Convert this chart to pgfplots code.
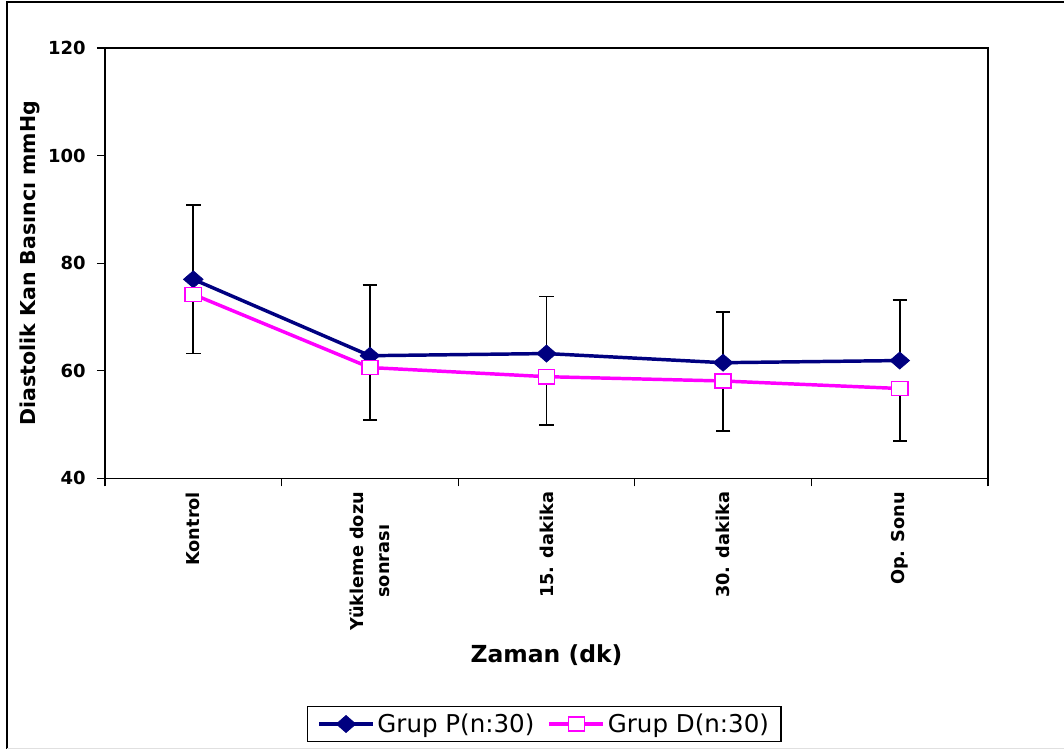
\documentclass[border=0pt]{standalone}
\usepackage{pgfplots}
\pgfplotsset{compat=1.18}
\usepackage{fontspec}
\setmainfont{DejaVu Sans}
\definecolor{navyP}{RGB}{0,0,128}
\definecolor{magD}{RGB}{255,0,255}

\begin{document}
\begin{tikzpicture}[x=0.75pt,y=0.75pt]
% page frame
\path[use as bounding box] (0,0) rectangle (1064,749);
\draw[line width=1.1pt] (7,0) -- (7,747) -- (1064,747);
\draw[black!12, line width=1pt] (7,0.7) -- (1064,0.7);
\begin{axis}[
  at={(78.75pt,203pt)}, anchor=south west,
  scale only axis, width=662.25pt, height=322.7pt,
  xmin=-0.5, xmax=4.5, ymin=40, ymax=120,
  xtick={-0.5,0.5,...,4.5},
  x tick label as interval,
  xticklabels={Kontrol,{Yükleme dozu\\sonrası},15. dakika,30. dakika,Op. Sonu},
  ytick={40,60,...,120},
  tick pos=left, tick align=outside, major tick length=6pt,
  tick style={black, line width=0.9pt},
  axis line style={line width=1.2pt},
  /pgf/number format/assume math mode=true,
  yticklabel style={font=\fontsize{13.5}{15}\selectfont\bfseries, inner sep=0pt, anchor=east, xshift=-8.25pt},
  xticklabel style={font=\fontsize{13.3}{20}\selectfont\bfseries, inner sep=0pt, yshift=-4pt, rotate=90, anchor=east, align=center},
  ylabel={Diastolik Kan Basıncı mmHg},
  ylabel style={font=\fontsize{15.4}{17}\selectfont\bfseries, at={(axis description cs:-0.0849,0.5)}, anchor=center},
  xlabel={Zaman (dk)},
  xlabel style={font=\fontsize{17.6}{19}\selectfont\bfseries, at={(axis description cs:0.5,-0.4107)}, anchor=center},
  legend columns=2,
  legend style={at={(0.4977,-0.571)}, anchor=center, draw=black, line width=0.8pt,
    font=\fontsize{18.4}{21}\selectfont, inner xsep=7pt, inner ysep=3.5pt,
    /tikz/every even column/.append style={column sep=8pt}},
  legend image code/.code={\draw[mark repeat=2,mark phase=2] plot coordinates {(0pt,0pt) (20.25pt,0pt) (40.5pt,0pt)};},
]
% error bars (P: upper, D: lower)
\addplot[draw=none, mark=none, forget plot,
  error bars/.cd, y dir=plus, y explicit,
  error bar style={draw=black, line width=1.4pt},
  error mark options={rotate=90, draw=black, line width=1.4pt, mark size=5.4pt}]
  coordinates {(0,77.0) +- (0,13.9) (1,62.8) +- (0,13.1) (2,63.2) +- (0,10.6) (3,61.5) +- (0,9.5) (4,61.9) +- (0,11.3)};
\addplot[draw=none, mark=none, forget plot,
  error bars/.cd, y dir=minus, y explicit,
  error bar style={draw=black, line width=1.4pt},
  error mark options={rotate=90, draw=black, line width=1.4pt, mark size=5.4pt}]
  coordinates {(0,74.2) +- (0,11.0) (1,60.6) +- (0,9.8) (2,58.9) +- (0,9.0) (3,58.1) +- (0,9.3) (4,56.7) +- (0,9.8)};
% series
\addplot[navyP, line width=2.6pt, mark=diamond*,
  mark options={solid, draw=navyP, fill=navyP, line width=0.5pt, xscale=1.54}, mark size=6.4pt]
  coordinates {(0,77.0) (1,62.8) (2,63.2) (3,61.5) (4,61.9)};
\addlegendentry{Grup P(n:30)}
\addplot[magD, line width=2.6pt, mark=square*,
  mark options={solid, draw=magD, fill=white, line width=1.2pt, xscale=1.15}, mark size=5.3pt]
  coordinates {(0,74.2) (1,60.6) (2,58.9) (3,58.1) (4,56.7)};
\addlegendentry{Grup D(n:30)}
\end{axis}
\end{tikzpicture}
\end{document}
